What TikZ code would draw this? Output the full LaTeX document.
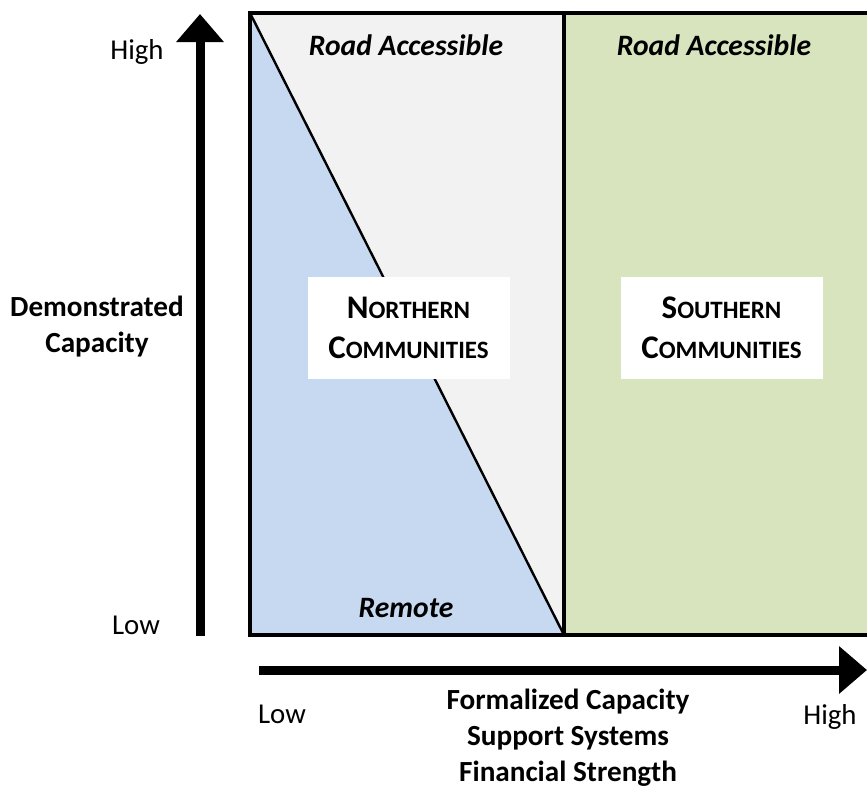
\documentclass[tikz,border=0pt]{standalone}
\usepackage{fontspec}
\setmainfont{Carlito}
\usetikzlibrary{arrows.meta}

\definecolor{remoteblue}{HTML}{C6D9F1}
\definecolor{roadgray}{HTML}{F2F2F2}
\definecolor{southgreen}{HTML}{D7E4BD}
\newcommand{\smallcapsword}[2]{#1{\fontsize{12.5}{14}\selectfont #2}}

\tikzset{
  axisarrow/.style={line width=4.5pt, -{Triangle[width=23pt,length=14pt]}},
  regionbox/.style={fill=white, minimum width=101pt, minimum height=51pt, align=center, font=\fontsize{16.5}{20}\selectfont\bfseries},
  bigtext/.style={font=\fontsize{14.6}{18}\selectfont\bfseries, align=center},
  tagtext/.style={font=\fontsize{14.8}{17}\selectfont\bfseries\itshape},
  ticktext/.style={font=\fontsize{14.4}{17}\selectfont}
}

\begin{document}
\begin{tikzpicture}[x=0.5pt, y=-0.5pt]
        \useasboundingbox (0,0) rectangle (867,787);
        \coordinate (tl) at (250,13);
        \coordinate (bl) at (250,635);
        \coordinate (midtop) at (564,13);
        \coordinate (midbot) at (564,635);
        \coordinate (tr) at (867,13);
        \coordinate (br) at (867,635);

        % regions
        \fill[southgreen] (midtop) rectangle (br);
        \fill[roadgray] (tl) -- (midtop) -- (midbot) -- cycle;
        \fill[remoteblue] (tl) -- (bl) -- (midbot) -- cycle;
        \draw[line width=1.75pt] (tr) -- (tl) -- (bl) -- (br);
        \draw[line width=1.75pt] (midtop) -- (midbot);
        \draw[line width=1.2pt] (tl) -- (midbot);

        % axes
        \coordinate (ybot) at (200,636);
        \coordinate (ytop) at (200,14);
        \coordinate (xleft) at (259,670);
        \coordinate (xright) at (867,670);
        \draw[axisarrow] (ybot) to (ytop);
        \draw[axisarrow] (xleft) to (xright);

        % labels
        \node[regionbox] (north) at (408.5,327.5) {\smallcapsword{N}{ORTHERN}\\\smallcapsword{C}{OMMUNITIES}};
        \node[regionbox] (south) at (721.5,327.5) {\smallcapsword{S}{OUTHERN}\\\smallcapsword{C}{OMMUNITIES}};
        \node[tagtext] (roadw) at (406,45) {Road Accessible};
        \node[tagtext] (roade) at (714,45) {Road Accessible};
        \node[tagtext] (remote) at (406,608) {Remote};

        \node[ticktext] (yhigh) at (137,52) {High};
        \node[ticktext] (ylow) at (136,625) {Low};
        \node[ticktext] (xlow) at (282,714) {Low};
        \node[ticktext] (xhigh) at (830,717) {High};
        \node[bigtext] (ylabel) at (97,327) {Demonstrated\\Capacity};
        \node[bigtext] (xlabel) at (568,738) {Formalized Capacity\\Support Systems\\Financial Strength};
\end{tikzpicture}
\end{document}
